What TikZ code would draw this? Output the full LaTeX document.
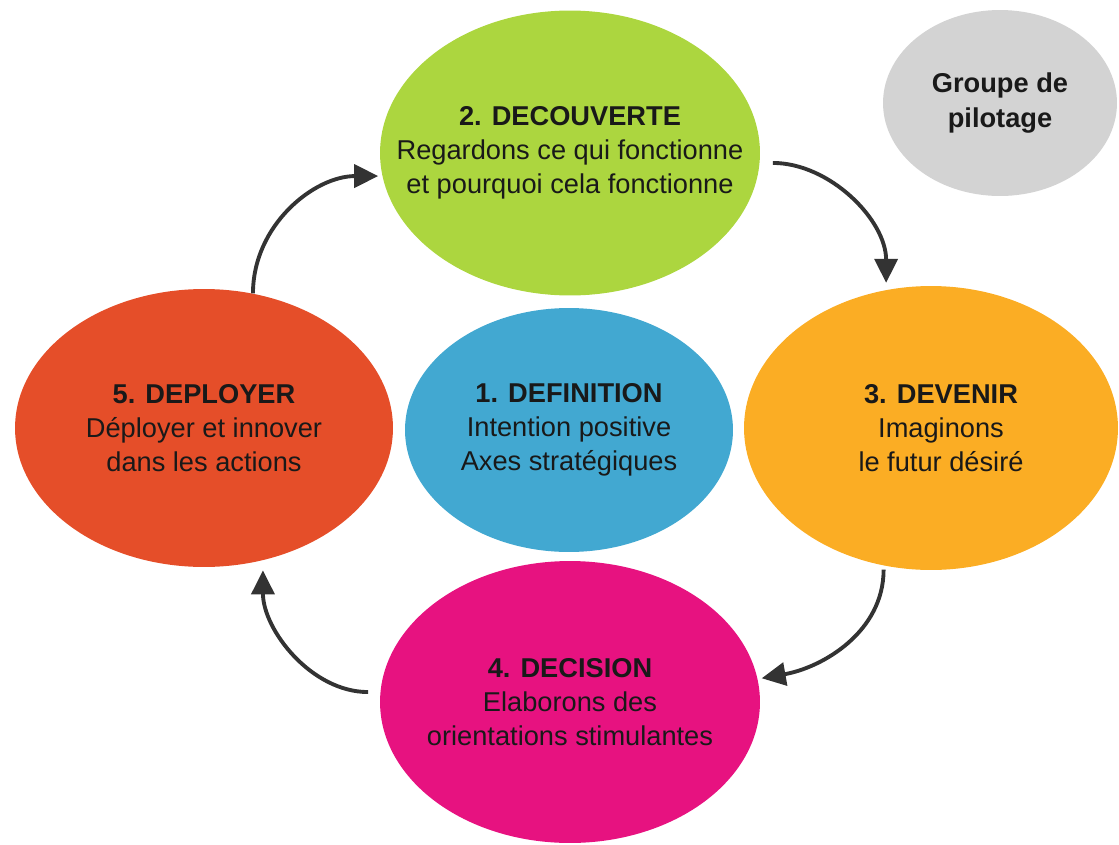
\documentclass[tikz,border=0pt]{standalone}
\usepackage{fontspec}
\setmainfont{Liberation Sans}
\usetikzlibrary{shapes.geometric,arrows.meta}
\definecolor{vert}{RGB}{172,214,63}
\definecolor{jaune}{RGB}{251,173,36}
\definecolor{bleu}{RGB}{66,168,209}
\definecolor{rouge}{RGB}{229,78,41}
\definecolor{rose}{RGB}{231,18,128}
\definecolor{gris}{RGB}{211,211,211}
\begin{document}
\begin{tikzpicture}[
        x=0.02cm, y=0.02cm,
        phase/.style={ellipse, inner sep=0pt, draw=none},
        txt/.style={align=center, text=black!90, font=\fontsize{15.5}{19.5}\selectfont},
        flow/.style={-{Triangle[length=0.48cm, width=0.46cm]}, line width=2.2pt, draw=black!80},
        ]
        \useasboundingbox (0,0) rectangle (1119,-845);

        \node (decouverte) at (570,-153) [phase, fill=vert, minimum width=7.6cm, minimum height=5.7cm] {};
        \node (devenir) at (931,-428) [phase, fill=jaune, minimum width=7.48cm, minimum height=5.68cm] {};
        \node (definition) at (569,-430) [phase, fill=bleu, minimum width=6.56cm, minimum height=4.88cm] {};
        \node (deployer) at (204,-428) [phase, fill=rouge, minimum width=7.56cm, minimum height=5.56cm] {};
        \node (decision) at (570,-702) [phase, fill=rose, minimum width=7.6cm, minimum height=5.64cm] {};
        \node (pilotage) at (1000,-103) [phase, fill=gris, minimum width=4.68cm, minimum height=3.72cm] {};

        \node (decouverte-t) at (decouverte) [txt] {\textbf{2. DECOUVERTE}\\Regardons ce qui fonctionne\\et pourquoi cela fonctionne};
        \node (devenir-t) at ([xshift=0.2cm]devenir) [txt] {\textbf{3. DEVENIR}\\Imaginons\\le futur désiré};
        \node (definition-t) at (definition) [txt] {\textbf{1. DEFINITION}\\Intention positive\\Axes stratégiques};
        \node (deployer-t) at (deployer) [txt] {\textbf{5. DEPLOYER}\\Déployer et innover\\dans les actions};
        \node (decision-t) at (decision) [txt] {\textbf{4. DECISION}\\Elaborons des\\orientations stimulantes};
        \node (pilotage-t) at (pilotage) [txt] {\textbf{Groupe de}\\\textbf{pilotage}};

        \draw[flow, shorten >=0.08cm] (deployer.70) to[out=90,in=180] (decouverte.187);
        \draw[flow, shorten <=0.26cm, shorten >=0.14cm] (decouverte.-3) to[out=0,in=90] (devenir.108);
        \draw[flow, shorten <=0.08cm, shorten >=0.08cm] (devenir.-109) to[out=-90,in=10] (decision.7);
        \draw[flow, shorten <=0.24cm, shorten >=0.2cm] (decision.177) to[out=180,in=-90] (deployer.-66);
    \end{tikzpicture}
\end{document}
